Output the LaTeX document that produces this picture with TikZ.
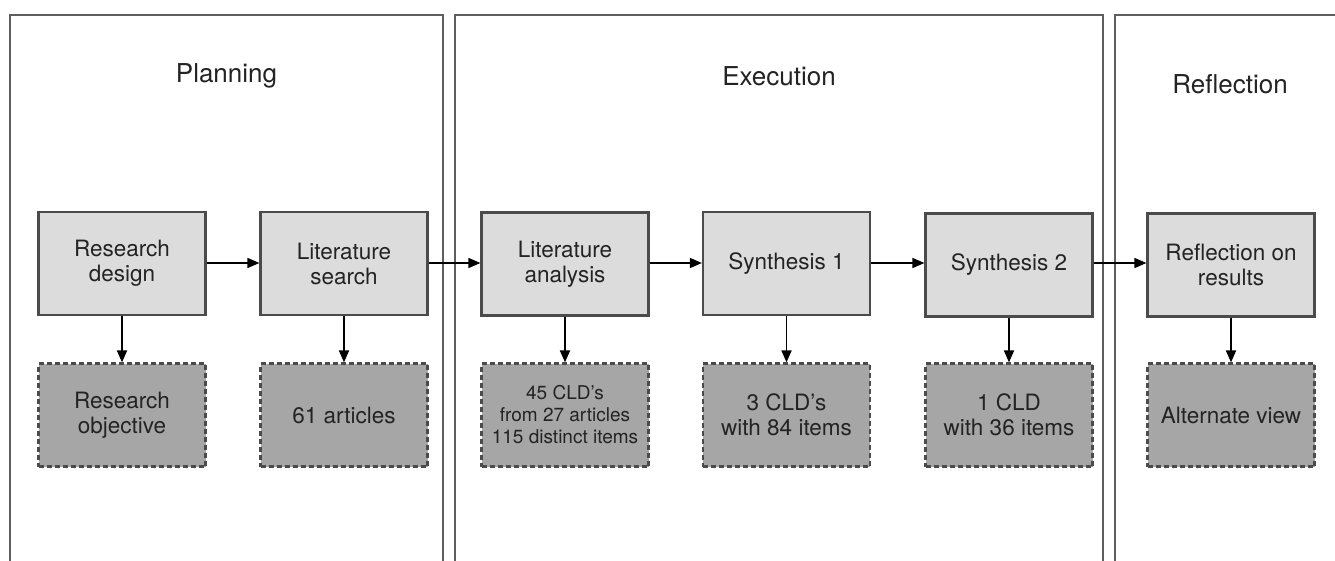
\documentclass[tikz,border=0pt]{standalone}
\usepackage{fontspec}
\setmainfont{TeX Gyre Heros}
\usetikzlibrary{arrows.meta}
\definecolor{boxfill}{RGB}{220,220,220}
\definecolor{darkfill}{RGB}{166,166,166}
\definecolor{edge}{RGB}{75,75,75}
\definecolor{panel}{RGB}{95,95,95}
\definecolor{txt}{RGB}{35,35,35}
\begin{document}
\begin{tikzpicture}[x=1pt,y=-1pt,
  panelbox/.style={draw=panel,line width=2.6pt},
  paneltitle/.style={text=txt,font=\fontsize{26}{30}\selectfont,inner sep=0pt},
  stepbox/.style={draw=edge,line width=2.2pt,fill=boxfill,minimum width=167pt,minimum height=103pt,
    text=txt,align=center,font=\fontsize{22.5}{25}\selectfont,inner sep=0pt},
  outbox/.style={draw=edge,line width=2.2pt,dash pattern=on 5pt off 3pt,fill=darkfill,minimum width=167pt,minimum height=103pt,
    text=txt,align=center,font=\fontsize{22.5}{25}\selectfont,inner sep=0pt},
  flow/.style={draw=black,line width=1.5pt,-{Triangle[length=12pt,width=10pt]}},
  down/.style={draw=edge,line width=1.8pt,-{Triangle[length=12pt,width=10pt]},black}
]
\useasboundingbox (0,0) rectangle (1335,561);
\clip (0,0) rectangle (1335,561);
\fill[white] (0,0) rectangle (1335,561);
% panels
\draw[panelbox] (10,600) -- (10,15) -- (443,15) -- (443,600);
\draw[panelbox] (455,600) -- (455,15) -- (1103,15) -- (1103,600);
\draw[panelbox] (1115,600) -- (1115,15) -- (1360,15);
% titles
\node[paneltitle] (tplan) at (226.5,76) {Planning};
\node[paneltitle] (texec) at (779,76) {Execution};
\node[paneltitle] (trefl) at (1230,84) {Reflection};
% step boxes
\node[stepbox] (rd) at (122,263.5) {Research\\design};
\node[stepbox] (ls) at (344,263.5) {Literature\\search};
\node[stepbox] (la) at (565,264) {Literature\\analysis};
\node[stepbox] (s1) at (786.5,263.5) {Synthesis 1};
\node[stepbox] (s2) at (1009,265) {Synthesis 2};
\node[stepbox] (rr) at (1231,265) {Reflection on\\results};
% output boxes
\node[outbox] (ro) at (122,415) {Research\\objective};
\node[outbox] (ar) at (344,415) {61 articles};
\node[outbox,font=\fontsize{19}{22}\selectfont] (cl) at (565,415) {45 CLD’s\\from 27 articles\\115 distinct items};
\node[outbox] (c3) at (786.5,415) {3 CLD’s\\with 84 items};
\node[outbox] (c1) at (1009,415) {1 CLD\\with 36 items};
\node[outbox] (av) at (1231,415) {Alternate view};
% horizontal flow
\draw[flow] (rd.east |- 0,263) -- (ls.west |- 0,263);
\draw[flow] (ls.east |- 0,263) -- (la.west |- 0,263);
\draw[flow] (la.east |- 0,263) -- (s1.west |- 0,263);
\draw[flow] (s1.east |- 0,263) -- (s2.west |- 0,263);
\draw[flow] (s2.east |- 0,263) -- (rr.west |- 0,263);
% vertical arrows
\draw[down] (rd) -- (ro);
\draw[down] (ls) -- (ar);
\draw[down] (la) -- (cl);
\draw[down] (s1) -- (c3);
\draw[down] (s2) -- (c1);
\draw[down] (rr) -- (av);
\end{tikzpicture}
\end{document}
